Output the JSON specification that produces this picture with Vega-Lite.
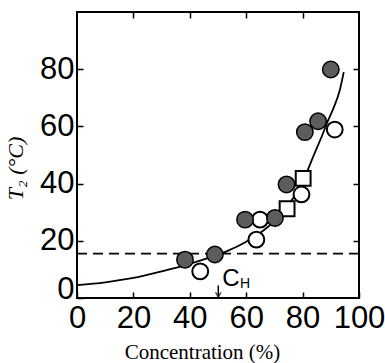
{
  "$schema": "https://vega.github.io/schema/vega-lite/v6.json",
  "autosize": "none",
  "width": 282,
  "height": 286,
  "padding": {"left": 77, "top": 12, "right": 26, "bottom": 65},
  "background": "white",
  "config": {
    "view": {"stroke": "black", "strokeWidth": 2},
    "axis": {
      "domain": false,
      "grid": false,
      "ticks": true,
      "tickColor": "black",
      "tickWidth": 1.5,
      "labelColor": "black",
      "labelFont": "Liberation Sans, sans-serif",
      "labelFontSize": 31,
      "labelOverlap": false,
      "labelBound": false,
      "labelFlush": false,
      "titleColor": "black",
      "titleFontWeight": "normal"
    }
  },
  "datasets": {
    "filled": [
      {"c": 38.3, "t": 13.4},
      {"c": 48.9, "t": 15.2},
      {"c": 59.6, "t": 27.4},
      {"c": 70.2, "t": 28.0},
      {"c": 74.3, "t": 39.7},
      {"c": 80.8, "t": 58.0},
      {"c": 85.5, "t": 61.8},
      {"c": 90.0, "t": 79.9}
    ],
    "open": [
      {"c": 43.7, "t": 9.3},
      {"c": 63.6, "t": 20.4},
      {"c": 64.9, "t": 27.4},
      {"c": 79.6, "t": 36.2},
      {"c": 91.4, "t": 58.9}
    ],
    "squares": [
      {"c": 74.5, "t": 31.2},
      {"c": 80.2, "t": 41.8}
    ],
    "curve": [
      {"c": 0, "t": 4.5},
      {"c": 10, "t": 5.5},
      {"c": 20, "t": 7.0},
      {"c": 30, "t": 9.3},
      {"c": 36, "t": 10.8},
      {"c": 45, "t": 13.5},
      {"c": 53, "t": 16.3},
      {"c": 60, "t": 19.7},
      {"c": 66, "t": 23.5},
      {"c": 70, "t": 27.0},
      {"c": 74, "t": 31.5},
      {"c": 78, "t": 37.0},
      {"c": 81.5, "t": 44.0},
      {"c": 84, "t": 50.0},
      {"c": 87, "t": 57.0},
      {"c": 89, "t": 62.0},
      {"c": 91, "t": 66.5},
      {"c": 93, "t": 72.0},
      {"c": 94.6, "t": 79.0}
    ],
    "threshold": [{"t": 15.5}],
    "marker": [{"c": 50.1, "top": 4.4, "bottom": 0.4}],
    "labels": [
      {"c": 54.6, "t": 6.5, "text": "C", "kind": "main"},
      {"c": 59.6, "t": 4.8, "text": "H", "kind": "sub"}
    ]
  },
  "resolve": {"axis": {"x": "independent", "y": "independent"}},
  "layer": [
    {
      "data": {"name": "curve"},
      "mark": {"type": "line", "color": "black", "strokeWidth": 1.8, "interpolate": "monotone"},
      "encoding": {
        "x": {
          "field": "c", "type": "quantitative",
          "scale": {"domain": [0, 100], "nice": false, "zero": false},
          "axis": {
            "values": [0, 20, 40, 60, 80, 100],
            "tickSize": -6,
            "labelPadding": 11,
            "title": "Concentration (%)",
            "titleFont": "Liberation Serif, DejaVu Serif, serif",
            "titleFontSize": 21,
            "titleColor": "black",
            "titleX": 125,
            "titleY": 60,
            "titleBaseline": "alphabetic"
          }
        },
        "y": {
          "field": "t", "type": "quantitative",
          "scale": {"domain": [0, 100], "nice": false, "zero": false},
          "axis": {
            "values": [0, 20, 40, 60, 80],
            "tickSize": -6,
            "labelPadding": 9,
            "labelBaseline": {"condition": {"test": "datum.value === 0", "value": "alphabetic"}, "value": "middle"},
            "title": "T₂ (°C)",
            "titleFont": "Liberation Serif, DejaVu Serif, serif",
            "titleFontStyle": "italic",
            "titleFontSize": 22,
            "titleColor": "black",
            "titleBaseline": "middle",
            "titleX": -62,
            "titleY": 156
          }
        }
      }
    },
    {
      "data": {"name": "threshold"},
      "mark": {"type": "rule", "color": "black", "strokeWidth": 1.8, "strokeDash": [10, 6]},
      "encoding": {
        "y": {
          "field": "t", "type": "quantitative",
          "axis": {"orient": "right", "values": [20, 40, 60, 80], "labels": false, "tickSize": -6, "title": null}
        }
      }
    },
    {
      "data": {"name": "marker"},
      "mark": {"type": "rule", "color": "black", "strokeWidth": 1.5},
      "encoding": {
        "x": {
          "field": "c", "type": "quantitative",
          "axis": {"orient": "top", "values": [20, 40, 60, 80], "labels": false, "tickSize": -6, "title": null}
        },
        "y": {"field": "top", "type": "quantitative", "axis": null},
        "y2": {"field": "bottom"}
      }
    },
    {
      "data": {"name": "marker"},
      "mark": {"type": "point", "shape": "M-1,-1.6L0,0L1,-1.6", "filled": false, "stroke": "black", "strokeWidth": 1.5, "size": 30},
      "encoding": {
        "x": {"field": "c", "type": "quantitative", "axis": null},
        "y": {"field": "bottom", "type": "quantitative", "axis": null}
      }
    },
    {
      "data": {"name": "labels"},
      "mark": {"type": "text", "font": "Liberation Sans, sans-serif", "color": "black", "baseline": "middle", "align": "center"},
      "encoding": {
        "x": {"field": "c", "type": "quantitative", "axis": null},
        "y": {"field": "t", "type": "quantitative", "axis": null},
        "text": {"field": "text"},
        "size": {"field": "kind", "type": "nominal", "scale": {"domain": ["main", "sub"], "range": [24, 14]}, "legend": null}
      }
    },
    {
      "data": {"name": "open"},
      "mark": {"type": "point", "shape": "circle", "filled": true, "fill": "white", "stroke": "black", "strokeWidth": 2, "size": 250, "opacity": 1},
      "encoding": {
        "x": {"field": "c", "type": "quantitative", "axis": null},
        "y": {"field": "t", "type": "quantitative", "axis": null}
      }
    },
    {
      "data": {"name": "squares"},
      "mark": {"type": "point", "shape": "square", "filled": true, "fill": "white", "stroke": "black", "strokeWidth": 2, "size": 220, "opacity": 1},
      "encoding": {
        "x": {"field": "c", "type": "quantitative", "axis": null},
        "y": {"field": "t", "type": "quantitative", "axis": null}
      }
    },
    {
      "data": {"name": "filled"},
      "mark": {"type": "point", "shape": "circle", "filled": true, "fill": "#5c5c5c", "stroke": "black", "strokeWidth": 1.5, "size": 270, "opacity": 1},
      "encoding": {
        "x": {"field": "c", "type": "quantitative", "axis": null},
        "y": {"field": "t", "type": "quantitative", "axis": null}
      }
    }
  ]
}
